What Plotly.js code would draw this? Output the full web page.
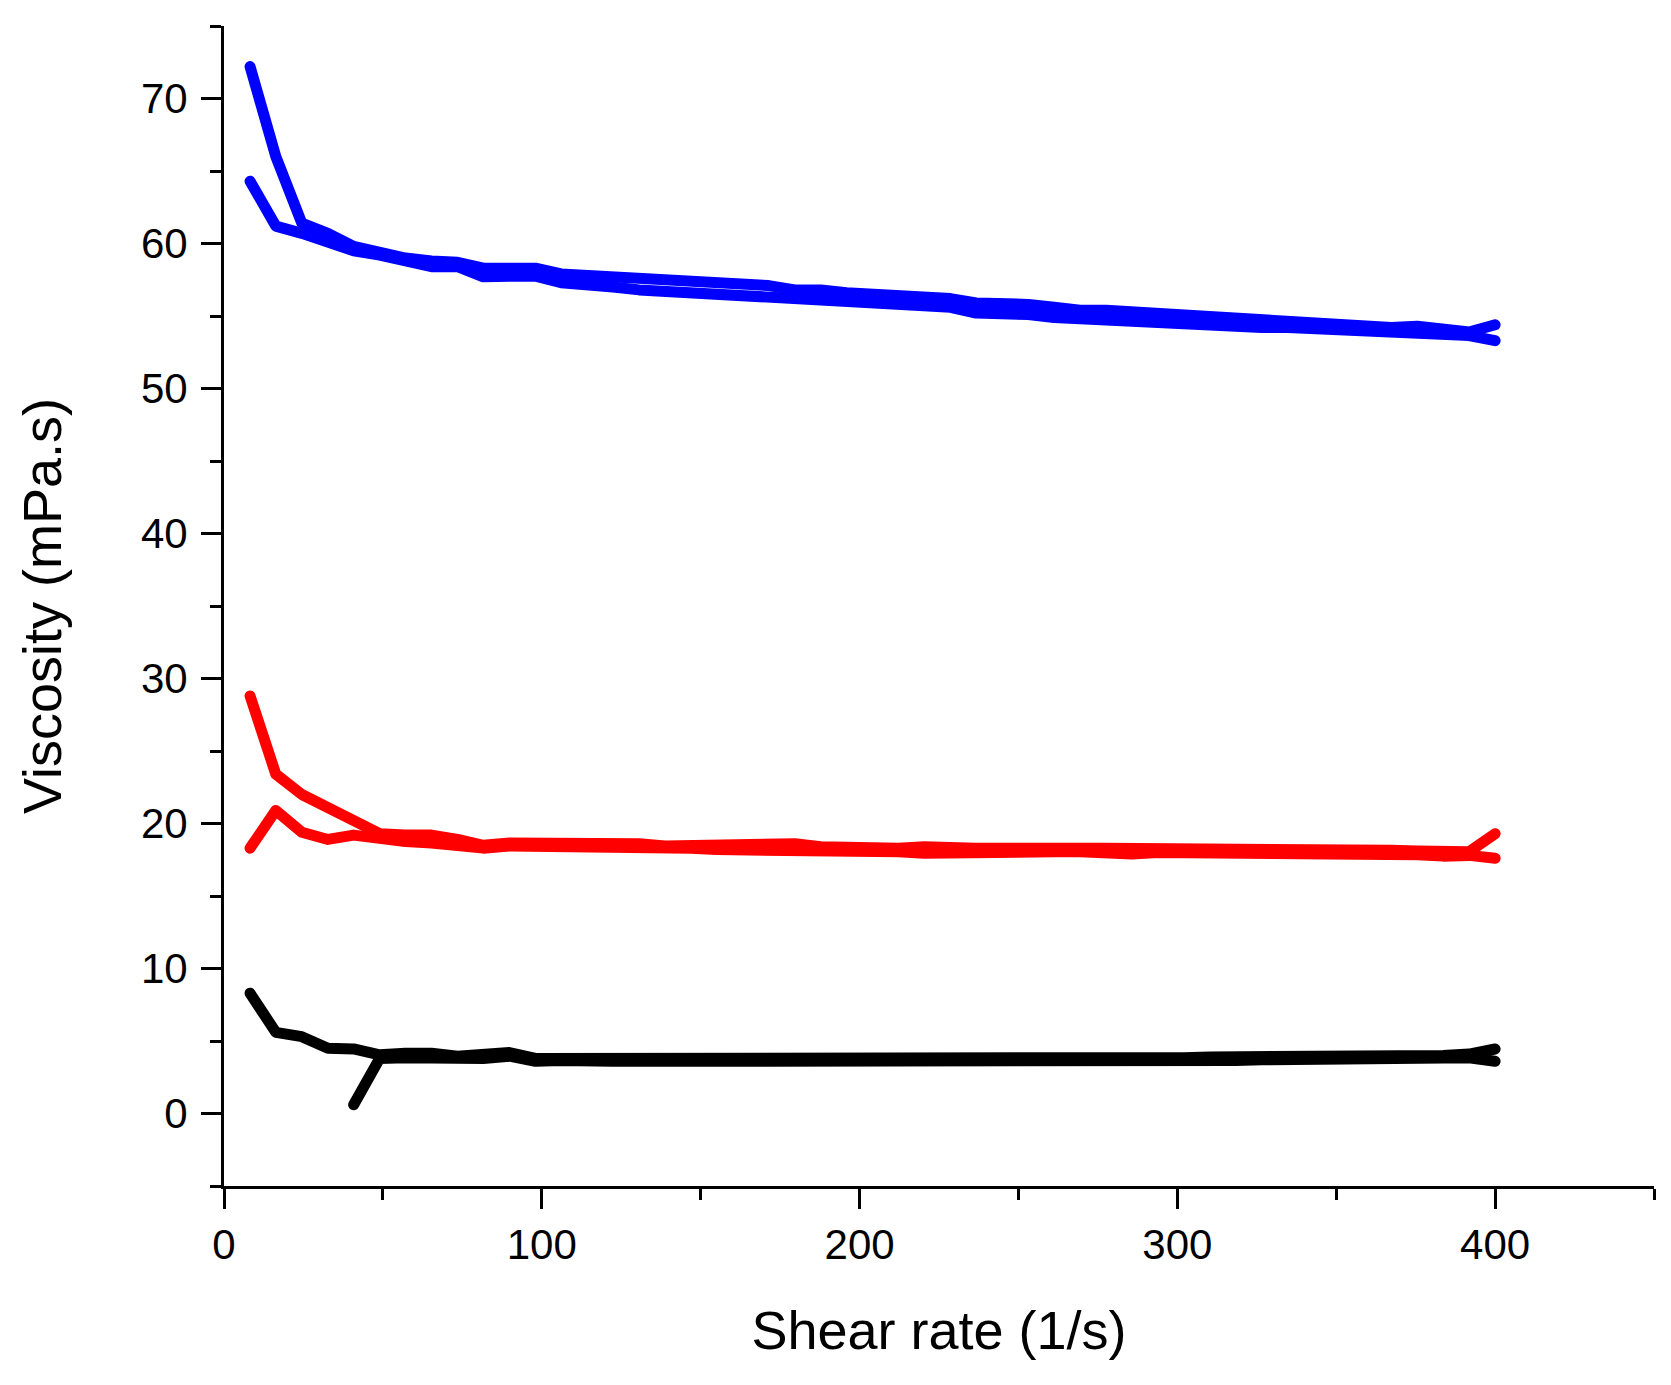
<!DOCTYPE html>
<html>
<head>
<meta charset="utf-8">
<script src="https://cdn.plot.ly/plotly-3.0.1.min.js"></script>
<style>
html,body{margin:0;padding:0;background:#fff;}
#chart{width:1671px;height:1385px;}
path.js-line{stroke-linecap:round !important;stroke-linejoin:round !important;}
</style>
</head>
<body>
<div id="chart"></div>
<script>
// Shear rate (1/s)
const shearRate = [8.2, 16.3, 24.5, 32.7, 40.8, 49.0, 57.1, 65.3, 73.5, 81.6,
  89.8, 98.0, 106.1, 114.3, 122.4, 130.6, 138.8, 146.9, 155.1, 163.3,
  171.4, 179.6, 187.8, 195.9, 204.1, 212.2, 220.4, 228.6, 236.7, 244.9,
  253.1, 261.2, 269.4, 277.6, 285.7, 293.9, 302.0, 310.2, 318.4, 326.5,
  334.7, 342.9, 351.0, 359.2, 367.3, 375.5, 383.7, 391.8, 400.0];

// Viscosity (mPa.s)
const blueA = [72.2, 66.0, 61.4, 60.7, 59.8, 59.4, 59.0, 58.8, 58.7, 58.3,
  58.3, 58.3, 57.9, 57.8, 57.7, 57.6, 57.4, 57.3, 57.2, 57.1,
  57.1, 56.8, 56.8, 56.6, 56.5, 56.4, 56.2, 56.2, 55.9, 55.9,
  55.8, 55.6, 55.4, 55.4, 55.3, 55.1, 55.0, 54.9, 54.8, 54.7,
  54.6, 54.5, 54.4, 54.3, 54.2, 54.3, 54.1, 53.9, 54.4];
const blueB = [64.3, 61.2, 60.7, 60.0, 59.5, 59.2, 58.8, 58.4, 58.4, 57.7,
  57.75, 57.75, 57.3, 57.2, 57.0, 56.8, 56.7, 56.6, 56.5, 56.4,
  56.3, 56.1, 56.0, 55.9, 55.8, 55.7, 55.6, 55.6, 55.2, 55.2,
  55.1, 54.9, 54.8, 54.8, 54.6, 54.6, 54.5, 54.4, 54.3, 54.2,
  54.2, 54.1, 54.0, 53.9, 53.85, 53.75, 53.7, 53.65, 53.3];
const redC = [28.8, 23.4, 22.0, 21.1, 20.1, 19.3, 19.2, 19.2, 18.9, 18.5,
  18.65, 18.65, 18.7, 18.6, 18.55, 18.6, 18.45, 18.45, 18.45, 18.45,
  18.55, 18.6, 18.4, 18.35, 18.35, 18.3, 18.4, 18.3, 18.3, 18.3,
  18.35, 18.35, 18.3, 18.3, 18.3, 18.3, 18.3, 18.25, 18.2, 18.2,
  18.2, 18.2, 18.15, 18.15, 18.15, 18.1, 18.1, 18.05, 19.3];
const redD = [18.3, 20.9, 19.4, 18.9, 19.2, 18.9, 18.75, 18.65, 18.55, 18.3,
  18.45, 18.45, 18.45, 18.45, 18.35, 18.3, 18.3, 18.3, 18.2, 18.2,
  18.15, 18.05, 18.15, 18.1, 18.05, 18.05, 17.95, 18.0, 18.05, 18.05,
  18.05, 18.05, 18.05, 17.95, 17.9, 18.0, 18.0, 18.0, 18.0, 17.9,
  17.95, 17.95, 17.9, 17.9, 17.9, 17.85, 17.75, 17.8, 17.6];
const blackE = [8.3, 5.6, 5.3, 4.5, 4.45, 4.05, 4.15, 4.15, 3.95, 4.0,
  4.2, 3.8, 3.8, 3.7, 3.75, 3.75, 3.75, 3.75, 3.7, 3.75,
  3.75, 3.75, 3.7, 3.7, 3.7, 3.75, 3.75, 3.75, 3.75, 3.75,
  3.8, 3.8, 3.8, 3.85, 3.85, 3.85, 3.85, 3.9, 3.9, 3.9,
  3.95, 3.95, 3.95, 3.95, 4.0, 4.0, 4.0, 4.1, 4.45];
const blackF = [null, null, null, null, 0.6, 3.8, 3.85, 3.85, 3.75, 3.8,
  3.95, 3.6, 3.65, 3.55, 3.6, 3.6, 3.6, 3.6, 3.55, 3.6,
  3.6, 3.55, 3.55, 3.5, 3.5, 3.55, 3.55, 3.55, 3.55, 3.55,
  3.6, 3.6, 3.6, 3.6, 3.6, 3.65, 3.65, 3.65, 3.65, 3.7,
  3.7, 3.7, 3.7, 3.75, 3.75, 3.75, 3.7, 3.85, 3.6];

const xTickVals = [0, 100, 200, 300, 400];
const yTickVals = [0, 10, 20, 30, 40, 50, 60, 70];

const LW = 11;
function tr(y, color) {
  return {x: shearRate, y: y, type: 'scatter', mode: 'lines',
    line: {color: color, width: LW, shape: 'linear'}, connectgaps: false,
    hoverinfo: 'skip', showlegend: false};
}
const data = [
  tr(blackF, '#000000'), tr(blackE, '#000000'),
  tr(redD, '#ff0000'), tr(redC, '#ff0000'),
  tr(blueB, '#0000ff'), tr(blueA, '#0000ff')
];

const FONT = '"Liberation Sans", Arial, sans-serif';
const layout = {
  width: 1671, height: 1385,
  margin: {l: 224, r: 17, t: 26, b: 199, pad: 0},
  paper_bgcolor: '#ffffff', plot_bgcolor: '#ffffff',
  font: {family: FONT, color: '#000000', size: 42},
  showlegend: false,
  xaxis: {
    range: [0, 450], tickmode: 'array', tickvals: xTickVals,
    ticktext: xTickVals.map(String),
    showline: true, linecolor: '#000', linewidth: 3,
    ticks: 'outside', ticklen: 20, tickwidth: 3, tickcolor: '#000',
    minor: {tickmode: 'linear', tick0: 0, dtick: 50, ticks: 'outside', ticklen: 11, tickwidth: 3, tickcolor: '#000', showgrid: false},
    showgrid: false, zeroline: false, mirror: false,
    tickfont: {family: FONT, size: 42, color: '#000'},
    ticklabelstandoff: 0,
    title: {text: 'Shear rate (1/s)', font: {family: FONT, size: 54, color: '#000'}, standoff: 44}
  },
  yaxis: {
    range: [-5, 75], tickmode: 'array', tickvals: yTickVals,
    ticktext: yTickVals.map(String),
    showline: true, linecolor: '#000', linewidth: 3,
    ticks: 'outside', ticklen: 20, tickwidth: 3, tickcolor: '#000',
    minor: {tickmode: 'linear', tick0: -5, dtick: 10, ticks: 'outside', ticklen: 11, tickwidth: 3, tickcolor: '#000', showgrid: false},
    showgrid: false, zeroline: false, mirror: false,
    tickfont: {family: FONT, size: 42, color: '#000'},
    ticklabelstandoff: 5,
    title: {text: 'Viscosity (mPa.s)', font: {family: FONT, size: 54, color: '#000'}, standoff: 62}
  }
};

Plotly.newPlot('chart', data, layout, {staticPlot: true, displayModeBar: false});
</script>
</body>
</html>
